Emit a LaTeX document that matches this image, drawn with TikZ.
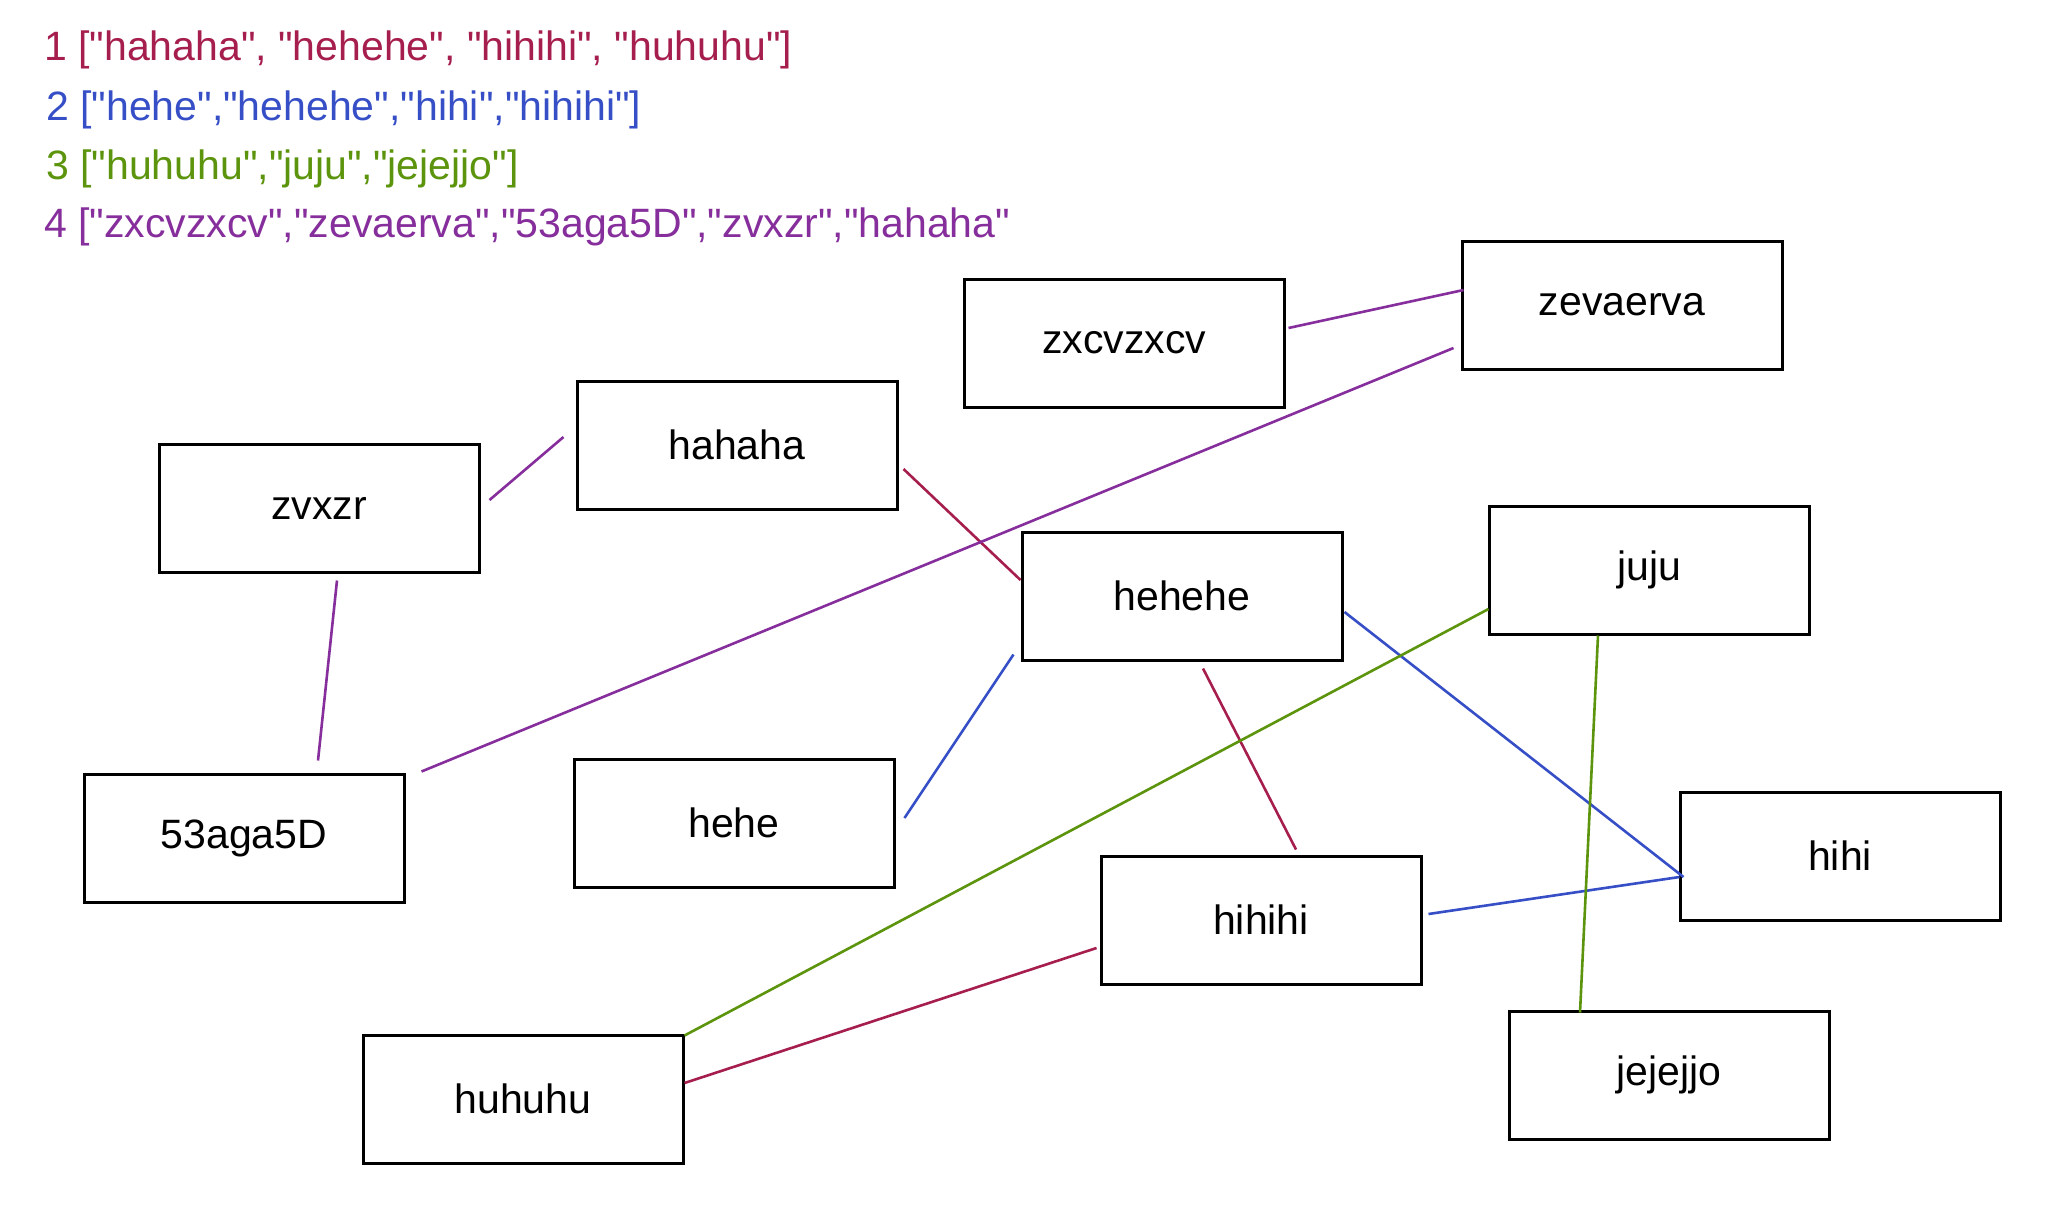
\documentclass[tikz,border=0pt]{standalone}
\usepackage{fontspec}
\setmainfont{Liberation Sans}[Ligatures=TeXOff]
\usetikzlibrary{calc}
\definecolor{cred}{HTML}{A61E4D}
\definecolor{cblue}{HTML}{364FC7}
\definecolor{cgreen}{HTML}{5C940D}
\definecolor{cpurple}{HTML}{862E9C}
\begin{document}
\begin{tikzpicture}[x=1pt,y=-1pt,
  box/.style={draw=black, line width=3pt, minimum width=320pt, minimum height=128pt, inner sep=0pt, font=\fontsize{41}{48}\selectfont},
  lbl/.style={anchor=west, inner sep=0pt, font=\fontsize{41}{48}\selectfont},
  link/.style={line width=2.6pt}]
\fill[white] (0,0) rectangle (2059,1229);
\useasboundingbox (0,0) rectangle (2059,1229);

% legend lines
\node[lbl, text=cred]    (l1) at (44,50)  {1 ["hahaha", "hehehe", "hihihi", "huhuhu"]};
\node[lbl, text=cblue]   (l2) at (46,110) {2 ["hehe","hehehe","hihi","hihihi"]};
\node[lbl, text=cgreen]  (l3) at (46,169) {3 ["huhuhu","juju","jejejjo"]};
\node[lbl, text=cpurple] (l4) at (44,227) {4 ["zxcvzxcv","zevaerva","53aga5D","zvxzr","hahaha"};

% boxes
\node[box] (zxcv)   at (1124,343)  {zxcvzxcv};
\node[box] (zeva)   at (1622,305)  {zevaerva};
\node[box] (hahaha) at (737,445)   {hahaha};
\node[box] (zvxzr)  at (319,508)   {zvxzr};
\node[box] (hehehe) at (1182,596)  {hehehe};
\node[box] (juju)   at (1649,570)  {juju};
\node[box] (aga)    at (244,838)   {53aga5D};
\node[box] (hehe)   at (734,823)   {hehe};
\node[box] (hihi)   at (1840,856)  {hihi};
\node[box] (hihihi) at (1261,920)  {hihihi};
\node[box] (huhuhu) at (523,1099)  {huhuhu};
\node[box] (jejejjo) at (1669,1075) {jejejjo};

% red connectors
\draw[link,cred] ($(hahaha.east)+(5,24)$) -- ($(hehehe.west)+(0,-16)$);
\draw[link,cred] ($(hehehe.south)+(21,7)$) -- ($(hihihi.north)+(35,-5)$);
\draw[link,cred] ($(hihihi.west)+(-3,28)$) -- ($(huhuhu.east)+(0,-16)$);

% blue connectors
\draw[link,cblue] ($(hehe.east)+(9,-5)$) -- ($(hehehe.south west)+(-7,-7)$);
\draw[link,cblue] ($(hehehe.east)+(1,16)$) -- ($(hihi.west)+(5,21)$);
\draw[link,cblue] ($(hihi.west)+(1,21)$) -- ($(hihihi.east)+(6,-6)$);

% green connectors
\draw[link,cgreen] ($(huhuhu.north east)+(0,2)$) -- ($(juju.west)+(1,39)$);
\draw[link,cgreen] ($(juju.south)+(-51,0)$) -- ($(jejejjo.north)+(-89,3)$);

% purple connectors
\draw[link,cpurple] ($(zxcv.east)+(3,-15)$) -- ($(zeva.west)+(3,-15)$);
\draw[link,cpurple] ($(zeva.west)+(-7,43)$) -- ($(aga.north east)+(16,-1)$);
\draw[link,cpurple] ($(aga.north)+(74,-12)$) -- ($(zvxzr.south)+(18,7)$);
\draw[link,cpurple] ($(zvxzr.east)+(9,-8)$) -- ($(hahaha.west)+(-12,-8)$);
\end{tikzpicture}
\end{document}
